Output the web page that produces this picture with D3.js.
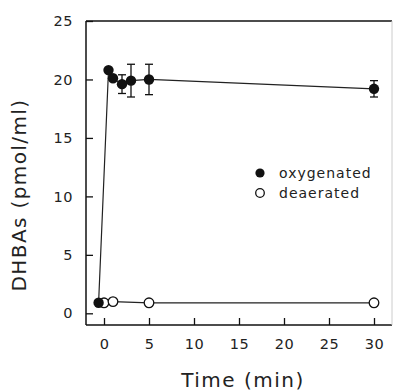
<!DOCTYPE html>
<html>
<head>
<meta charset="utf-8">
<script src="https://cdn.jsdelivr.net/npm/d3@7"></script>
<style>
	body { margin: 0; background: #fff; }
	svg text { font-family: "DejaVu Sans", sans-serif; fill: #222; }
</style>
</head>
<body>
<div id="chart"></div>
<script>
var xTicks = [0, 5, 10, 15, 20, 25, 30];
var yTicks = [0, 5, 10, 15, 20, 25];

// oxygenated: time, value, error
var oxyTime = [-0.6, 0.5, 1, 2, 3, 5, 30];
var oxyValue = [0.9, 20.8, 20.1, 19.6, 19.9, 20.0, 19.2];
var oxyError = [0, 0, 0, 0.8, 1.4, 1.3, 0.7];

// deaerated
var deaTime = [0, 1, 5, 30];
var deaValue = [0.9, 1.0, 0.9, 0.9];

var width = 393,
	height = 392;

var x = d3.scaleLinear().domain([-2, 32]).range([86, 392]);
var y = d3.scaleLinear().domain([-1, 25]).range([325, 21]);

var svg = d3.select("#chart").append("svg")
	.attr("width", width)
	.attr("height", height);

// frame
svg.append("line").attr("x1", x(-2)).attr("x2", x(-2)).attr("y1", y(25)).attr("y2", y(-1))
	.attr("stroke", "#111").attr("stroke-width", 1.5);
svg.append("line").attr("x1", x(-2)).attr("x2", x(32)).attr("y1", y(-1)).attr("y2", y(-1))
	.attr("stroke", "#111").attr("stroke-width", 1.5);
svg.append("line").attr("x1", x(-2)).attr("x2", x(32)).attr("y1", y(25)).attr("y2", y(25))
	.attr("stroke", "#111").attr("stroke-width", 1.5);
svg.append("line").attr("x1", 392).attr("x2", 392).attr("y1", y(25)).attr("y2", y(-1))
	.attr("stroke", "#ccc").attr("stroke-width", 1);

var xAxis = d3.axisBottom(x).tickValues(xTicks).tickSizeInner(-7).tickSizeOuter(0).tickPadding(14);
var gx = svg.append("g").attr("transform", "translate(0," + y(-1) + ")").call(xAxis);
gx.select(".domain").remove();
gx.selectAll("line").attr("stroke", "#111").attr("stroke-width", 1.3);
gx.selectAll("text").attr("font-size", 14.5).attr("letter-spacing", 0.5);

var yAxis = d3.axisLeft(y).tickValues(yTicks).tickSizeInner(-7).tickSizeOuter(0).tickPadding(13);
var gy = svg.append("g").attr("transform", "translate(" + x(-2) + ",0)").call(yAxis);
gy.select(".domain").remove();
gy.selectAll("line").attr("stroke", "#111").attr("stroke-width", 1.3);
gy.selectAll("text").attr("font-size", 14.5).attr("letter-spacing", 0.5);

var line = d3.line().x(function(d) { return x(d[0]); }).y(function(d) { return y(d[1]); });

var oxy = oxyTime.map(function(t, i) { return [t, oxyValue[i], oxyError[i]]; });
var dea = deaTime.map(function(t, i) { return [t, deaValue[i]]; });

svg.append("path").attr("d", line(dea)).attr("fill", "none").attr("stroke", "#222").attr("stroke-width", 1.2);
svg.append("path").attr("d", line(oxy)).attr("fill", "none").attr("stroke", "#222").attr("stroke-width", 1.2);

// error bars
var eb = svg.append("g").attr("stroke", "#111").attr("stroke-width", 1.3);
oxy.filter(function(d) { return d[2] > 0; }).forEach(function(d) {
	eb.append("line").attr("x1", x(d[0])).attr("x2", x(d[0])).attr("y1", y(d[1] - d[2])).attr("y2", y(d[1] + d[2]));
	[d[1] - d[2], d[1] + d[2]].forEach(function(v) {
		eb.append("line").attr("x1", x(d[0]) - 4).attr("x2", x(d[0]) + 4).attr("y1", y(v)).attr("y2", y(v));
	});
});

svg.selectAll(".dea").data(dea).enter().append("circle")
	.attr("cx", function(d) { return x(d[0]); })
	.attr("cy", function(d) { return y(d[1]); })
	.attr("r", 4.8)
	.attr("fill", "#fff").attr("stroke", "#111").attr("stroke-width", 1.3);

svg.selectAll(".oxy").data(oxy).enter().append("circle")
	.attr("cx", function(d) { return x(d[0]); })
	.attr("cy", function(d) { return y(d[1]); })
	.attr("r", 5.2)
	.attr("fill", "#111");

// legend
svg.append("circle").attr("cx", 260).attr("cy", 173).attr("r", 4.6).attr("fill", "#111");
svg.append("circle").attr("cx", 260).attr("cy", 193).attr("r", 4.3).attr("fill", "#fff").attr("stroke", "#111").attr("stroke-width", 1.3);
svg.append("text").attr("x", 279).attr("y", 178).attr("font-size", 14).attr("letter-spacing", 1).text("oxygenated");
svg.append("text").attr("x", 279).attr("y", 198).attr("font-size", 14).attr("letter-spacing", 1).text("deaerated");

// axis titles
svg.append("text").attr("x", 243).attr("y", 387).attr("text-anchor", "middle").attr("font-size", 20).attr("letter-spacing", 1.5).text("Time (min)");
svg.append("text").attr("transform", "translate(26,195) rotate(-90)").attr("text-anchor", "middle").attr("font-size", 20).attr("letter-spacing", 1.4).text("DHBAs (pmol/ml)");
</script>
</body>
</html>
